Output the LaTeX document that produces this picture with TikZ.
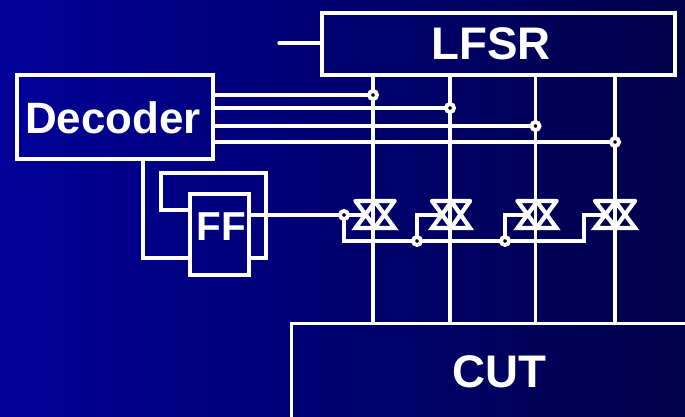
\documentclass[tikz,border=0pt]{standalone}
\usepackage{fontspec}
\setmainfont{Liberation Sans}
\definecolor{bgleft}{RGB}{0,0,152}
\definecolor{bgright}{RGB}{0,0,72}
\tikzset{
    wire/.style={draw=white,line width=1.9pt,line cap=round,line join=miter},
    gate/.style={wire,line width=2.4pt},
    box/.style={draw=white,line width=2.1pt,rectangle,inner sep=0pt},
    title/.style={text=white,inner sep=0pt,font=\bfseries\fontsize{26}{30}\selectfont},
    decodertitle/.style={title,font=\bfseries\fontsize{25}{28}\selectfont},
    fftitle/.style={title,font=\bfseries\fontsize{23}{28}\selectfont},
    junction/.style={circle,draw=white,fill=black,line width=2.2pt,inner sep=0pt,minimum size=0.16cm}
}
\begin{document}
\begin{tikzpicture}[x=0.02cm,y=-0.02cm]
    \useasboundingbox (0,0) rectangle (685,416);
    \clip (0,0) rectangle (685,416);
    \shade[left color=bgleft,right color=bgright] (0,0) rectangle (685,416);
    \node[box,minimum width=7.07cm,minimum height=1.25cm] (LFSR) at (498.5,44) {};
    \node[box,minimum width=3.93cm,minimum height=1.69cm] (Decoder) at (115,117) {};
    \node[box,minimum width=1.19cm,minimum height=1.63cm] (FF) at (219.5,234.5) {};
    \node[box,minimum width=8.5cm,minimum height=3cm] (CUT) at (504,398.5) {};
    \node[title] (LFSRtext) at (491,44) {LFSR};
    \node[decodertitle] (Decodertext) at (113,118) {Decoder};
    \node[fftitle] (FFtext) at (221,227) {FF};
    \node[title] (CUTtext) at (499.5,372) {CUT};
    \draw (279,43) coordinate (IN);
    \draw (373,95) coordinate (J1);
    \draw (450,108) coordinate (J2);
    \draw (535.5,126) coordinate (J3);
    \draw (615,142) coordinate (J4);
    \draw (344,215) coordinate (K1);
    \draw (417,241) coordinate (K2);
    \draw (505,241) coordinate (K3);
    \draw (584,241) coordinate (K4);
    \draw (374.5,215) coordinate (G1);
    \draw (451,215) coordinate (G2);
    \draw (536.5,215) coordinate (G3);
    \draw (615,215) coordinate (G4);
    \draw (365,215) coordinate (T1);
    \draw (441,215) coordinate (T2);
    \draw (527,215) coordinate (T3);
    \draw (605,215) coordinate (T4);
    \draw (143,258) coordinate (LOADA);
    \draw (161,210) coordinate (LOOPA);
    \draw (266,173) coordinate (LOOPB);
    \draw (266,258) coordinate (LOOPC);
    \draw[wire] (IN) -- (IN -| LFSR.west);
    \draw[wire] (Decoder.east |- J1) -- (J1);
    \draw[wire,line width=2.3pt] (Decoder.east |- J2) -- (J2);
    \draw[wire] (Decoder.east |- J3) -- (J3);
    \draw[wire] (Decoder.east |- J4) -- (J4);
    \draw[wire] (J1 |- LFSR.south) -- (J1 |- CUT.north);
    \draw[wire] (J2 |- LFSR.south) -- (J2 |- CUT.north);
    \draw[wire] (J3 |- LFSR.south) -- (J3 |- CUT.north);
    \draw[wire] (J4 |- LFSR.south) -- (J4 |- CUT.north);
    \draw[wire] (LOADA |- Decoder.south) -- (LOADA) -- (LOADA -| FF.west);
    \draw[wire] (LOOPA -| FF.west) -- (LOOPA) |- (LOOPB) -- (LOOPC) -- (LOOPC -| FF.east);
    \draw[wire] (K1 -| FF.east) -- (K1) -- (T1);
    \draw[wire] (K1) -- (K1 |- K2) -- (K4) -- (K4 |- T4) -- (T4);
    \draw[wire] (K2) -- (K2 |- T2) -- (T2);
    \draw[wire] (K3) -- (K3 |- T3) -- (T3);
    \draw[gate] (G1) ++(-19,-14) -- ++(39,0) ++(-39,0) -- ++(20,27) -- ++(-20,0) -- ++(20,-27) ++(-1,0) -- ++(20,27) -- ++(-20,0) -- ++(20,-27);
    \draw[gate] (G2) ++(-19,-14) -- ++(38,0) ++(-38,0) -- ++(20,27) -- ++(-20,0) -- ++(20,-27) ++(-1,0) -- ++(19,27) -- ++(-19,0) -- ++(19,-27);
    \draw[gate] (G3) ++(-19,-14) -- ++(39,0) ++(-39,0) -- ++(20,27) -- ++(-20,0) -- ++(20,-27) ++(-1,0) -- ++(20,27) -- ++(-20,0) -- ++(20,-27);
    \draw[gate] (G4) ++(-20,-14) -- ++(40,0) ++(-40,0) -- ++(21,27) -- ++(-21,0) -- ++(21,-27) ++(-1,0) -- ++(20,27) -- ++(-20,0) -- ++(20,-27);
    \node[junction] (DJ1) at (J1) {};
    \node[junction] (DJ2) at (J2) {};
    \node[junction] (DJ3) at (J3) {};
    \node[junction] (DJ4) at (J4) {};
    \node[junction] (DK1) at (K1) {};
    \node[junction] (DK2) at (K2) {};
    \node[junction] (DK3) at (K3) {};
\end{tikzpicture}
\end{document}
